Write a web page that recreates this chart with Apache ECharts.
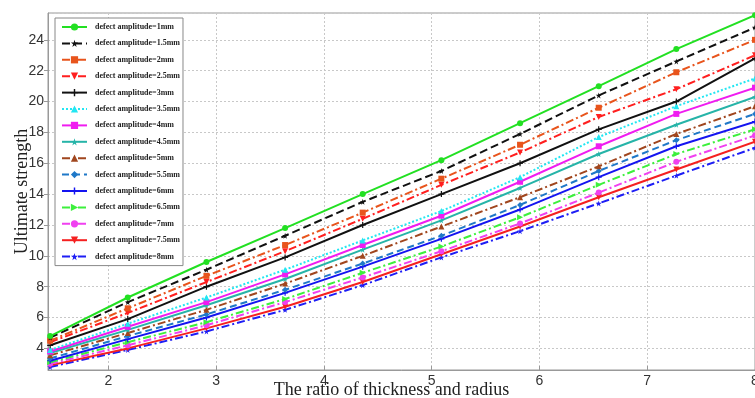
<!DOCTYPE html>
<html>
<head>
<meta charset="utf-8">
<script src="https://cdn.jsdelivr.net/npm/echarts@6/dist/echarts.min.js"></script>
<style>
  html, body { margin: 0; padding: 0; background: #fff; }
  #chart { width: 755px; height: 398px; }
</style>
</head>
<body>
<div id="chart"></div>
<script>
// ratio of thickness and radius (x positions of the points)
const ratios = [1.46, 2.18, 2.91, 3.64, 4.36, 5.09, 5.82, 6.55, 7.27, 8.0];

const amplitudes = ['1', '1.5', '2', '2.5', '3', '3.5', '4', '4.5', '5', '5.5', '6', '6.5', '7', '7.5', '8'];

// ultimate strength, one array per defect amplitude
const amp1   = [4.8, 7.3, 9.6, 11.8, 14.0, 16.2, 18.6, 21.0, 23.4, 25.6];
const amp1_5 = [4.7, 7.0, 9.1, 11.3, 13.5, 15.5, 17.9, 20.4, 22.6, 24.8];
const amp2   = [4.5, 6.6, 8.7, 10.7, 12.8, 15.0, 17.2, 19.6, 21.9, 24.0];
const amp2_5 = [4.4, 6.3, 8.3, 10.3, 12.4, 14.6, 16.7, 19.0, 20.8, 23.0];
const amp3   = [4.2, 5.9, 8.0, 9.9, 12.0, 14.0, 16.0, 18.2, 20.0, 22.8];
const amp3_5 = [3.9, 5.6, 7.3, 9.1, 11.0, 12.9, 15.1, 17.7, 19.7, 21.5];
const amp4   = [3.8, 5.4, 7.0, 8.8, 10.7, 12.6, 14.8, 17.1, 19.2, 20.9];
const amp4_5 = [3.7, 5.2, 6.8, 8.5, 10.4, 12.3, 14.4, 16.6, 18.5, 20.3];
const amp5   = [3.55, 5.0, 6.5, 8.2, 10.0, 11.9, 13.8, 15.8, 17.9, 19.7];
const amp5_5 = [3.35, 4.8, 6.2, 7.8, 9.5, 11.3, 13.3, 15.5, 17.5, 19.2];
const amp6   = [3.2, 4.6, 6.0, 7.6, 9.3, 11.1, 13.0, 15.1, 17.1, 18.7];
const amp6_5 = [3.1, 4.4, 5.7, 7.2, 8.9, 10.6, 12.5, 14.6, 16.6, 18.2];
const amp7   = [3.0, 4.2, 5.5, 7.0, 8.6, 10.3, 12.1, 14.1, 16.1, 17.8];
const amp7_5 = [2.9, 4.0, 5.3, 6.7, 8.3, 10.1, 11.9, 13.8, 15.6, 17.4];
const amp8   = [2.8, 3.9, 5.1, 6.5, 8.1, 9.9, 11.6, 13.4, 15.2, 17.0];

const values = [amp1, amp1_5, amp2, amp2_5, amp3, amp3_5, amp4, amp4_5, amp5, amp5_5, amp6, amp6_5, amp7, amp7_5, amp8];

const STAR = 'path://M50,0 L61,35 L98,35 L68,57 L79,91 L50,70 L21,91 L32,57 L2,35 L39,35 Z';
const PLUS = 'path://M40,0h20v40h40v20h-40v40h-20v-40h-40v-20h40z';
const TRI_DOWN = 'path://M0,0 L100,0 L50,87 Z';
const TRI_RIGHT = 'path://M0,0 L87,50 L0,100 Z';

const dashDot = [8, 3, 2, 3];
const styles = [
  { color: '#22e022', type: 'solid', symbol: 'circle' },
  { color: '#111111', type: [8, 4], symbol: STAR },
  { color: '#e8541c', type: dashDot, symbol: 'rect' },
  { color: '#ff1f1f', type: dashDot, symbol: TRI_DOWN },
  { color: '#111111', type: 'solid', symbol: PLUS },
  { color: '#22e6f2', type: [2, 2], symbol: 'triangle' },
  { color: '#f01cf0', type: 'solid', symbol: 'rect' },
  { color: '#26b4a8', type: 'solid', symbol: STAR },
  { color: '#a0461e', type: dashDot, symbol: 'triangle' },
  { color: '#1f78c8', type: [7, 4], symbol: 'diamond' },
  { color: '#1414f0', type: 'solid', symbol: PLUS },
  { color: '#3cf03c', type: dashDot, symbol: TRI_RIGHT },
  { color: '#f040f0', type: dashDot, symbol: 'circle' },
  { color: '#f52020', type: 'solid', symbol: TRI_DOWN },
  { color: '#1e1ef5', type: dashDot, symbol: STAR }
];

const chart = echarts.init(document.getElementById('chart'));

const series = amplitudes.map((a, i) => ({
  name: 'defect amplitude=' + a + 'mm',
  type: 'line',
  data: ratios.map((x, j) => [x, values[i][j]]),
  symbol: styles[i].symbol,
  symbolSize: 6,
  showSymbol: true,
  lineStyle: { color: styles[i].color, width: 2, type: styles[i].type },
  itemStyle: { color: styles[i].color },
  z: 20 - i
}));

chart.setOption({
  backgroundColor: '#fff',
  animation: false,
  grid: {
    left: 48, right: 0, top: 13, bottom: 28,
    outerBoundsMode: 'none',
    containLabel: false,
    show: true, borderColor: '#999', borderWidth: 1
  },
  legend: {
    orient: 'vertical',
    left: 55,
    top: 18,
    itemWidth: 25,
    itemHeight: 9,
    itemGap: 8.4,
    padding: [5, 3, 5, 6],
    backgroundColor: '#fff',
    borderColor: '#888',
    borderWidth: 1,
    textStyle: { fontFamily: 'Liberation Serif', fontWeight: 'bold', fontSize: 8, color: '#222', padding: [0, 0, 0, 3] }
  },
  xAxis: {
    type: 'value',
    min: 1.44,
    max: 8,
    name: 'The ratio of thickness and radius',
    nameLocation: 'middle',
    nameGap: 11,
    nameMoveOverlap: false,
    nameTextStyle: { fontFamily: 'Liberation Serif', fontSize: 18, color: '#222', verticalAlign: 'top', padding: [0, 20, 0, 0] },
    axisLine: { lineStyle: { color: '#999' } },
    axisTick: { inside: true, length: 4, lineStyle: { color: '#999' } },
    axisLabel: { showMinLabel: false, hideOverlap: false, fontFamily: 'Liberation Sans', fontSize: 14, color: '#333', margin: 4 },
    splitLine: { show: true, lineStyle: { color: '#c8c8c8', type: [2, 2] } }
  },
  yAxis: {
    type: 'value',
    min: 2.6,
    max: 25.74,
    splitNumber: 11,
    name: 'Ultimate strength',
    nameLocation: 'middle',
    nameGap: 17,
    nameMoveOverlap: false,
    nameTextStyle: { fontFamily: 'Liberation Serif', fontSize: 18, color: '#222' },
    axisLine: { show: true, lineStyle: { color: '#999' } },
    axisTick: { show: true, length: 4, lineStyle: { color: '#999' } },
    axisLabel: { showMinLabel: false, showMaxLabel: false, fontFamily: 'Liberation Sans', fontSize: 14, color: '#333', margin: 4 },
    splitLine: { show: true, lineStyle: { color: '#c8c8c8', type: [2, 2] } }
  },
  series: series
});
</script>
</body>
</html>
